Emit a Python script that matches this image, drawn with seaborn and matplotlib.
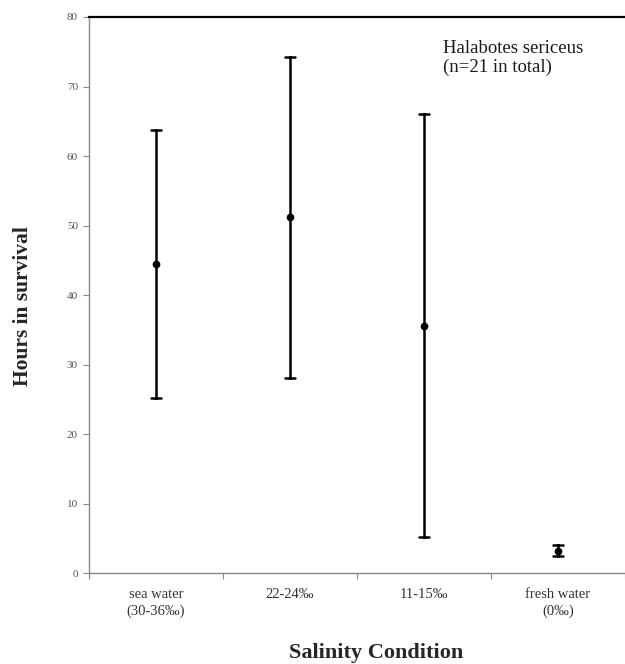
import matplotlib
matplotlib.use("Agg")
import matplotlib.pyplot as plt
import seaborn as sns
import pandas as pd
from matplotlib.ticker import FixedLocator

categories = ["sea water\n(30-36‰)", "22-24‰", "11-15‰", "fresh water\n(0‰)"]
means = [44.5, 51.2, 35.6, 3.2]
errors = [19.3, 23.1, 30.4, 0.8]
yticks = [0, 10, 20, 30, 40, 50, 60, 70, 80]

rows = []
for c, m, e in zip(categories, means, errors):
    rows.append({"cond": c, "hours": m - e})
    rows.append({"cond": c, "hours": m + e})
df = pd.DataFrame(rows)

sns.set_theme(style="white")
plt.rcParams["font.family"] = ["Liberation Serif", "DejaVu Serif"]

fig = plt.figure(figsize=(6.25, 6.64), dpi=100)
ax = fig.add_axes([0.1424, 0.137, 0.8576, 0.8374])

sns.pointplot(data=df, x="cond", y="hours", order=categories,
              estimator="mean", errorbar=("pi", 100), capsize=0.07,
              linestyle="none", color="black", markers="o",
              markersize=3.5, err_kws={"linewidth": 1.8}, ax=ax)

ax.set_xlim(-0.5, 3.5)
ax.set_ylim(0, 80)
ax.set_yticks(yticks)
ax.set_yticklabels([str(t) for t in yticks], fontsize=8, color="#555555")
ax.tick_params(axis="y", direction="out", length=4, width=0.8, color="#888888", left=True, pad=4)
ax.set_xticks(range(len(categories)))
ax.set_xticklabels(categories, fontsize=10.5, color="#333333", linespacing=1.3)
ax.tick_params(axis="x", which="major", length=0, pad=11)
ax.xaxis.set_minor_locator(FixedLocator([-0.5, 0.5, 1.5, 2.5, 3.5]))
ax.tick_params(axis="x", which="minor", direction="out", length=4, width=0.8, color="#888888", bottom=True)

for s in ["left", "bottom"]:
    ax.spines[s].set_color("#888888")
    ax.spines[s].set_linewidth(1.0)
ax.spines["top"].set_color("black")
ax.spines["top"].set_linewidth(1.6)
ax.spines["right"].set_visible(False)

ax.set_xlabel("Salinity Condition", fontsize=16, fontweight="bold")
ax.xaxis.set_label_coords(0.535, -0.125)
ax.set_ylabel("Hours in survival", fontsize=15.5, fontweight="bold")
ax.yaxis.set_label_coords(-0.105, 0.48)

ax.text(0.66, 0.958, "Halabotes sericeus\n(n=21 in total)", transform=ax.transAxes,
        fontsize=13.5, va="top", ha="left", color="#1a1a1a", linespacing=1.12)

fig.savefig("out.png", dpi=100)
